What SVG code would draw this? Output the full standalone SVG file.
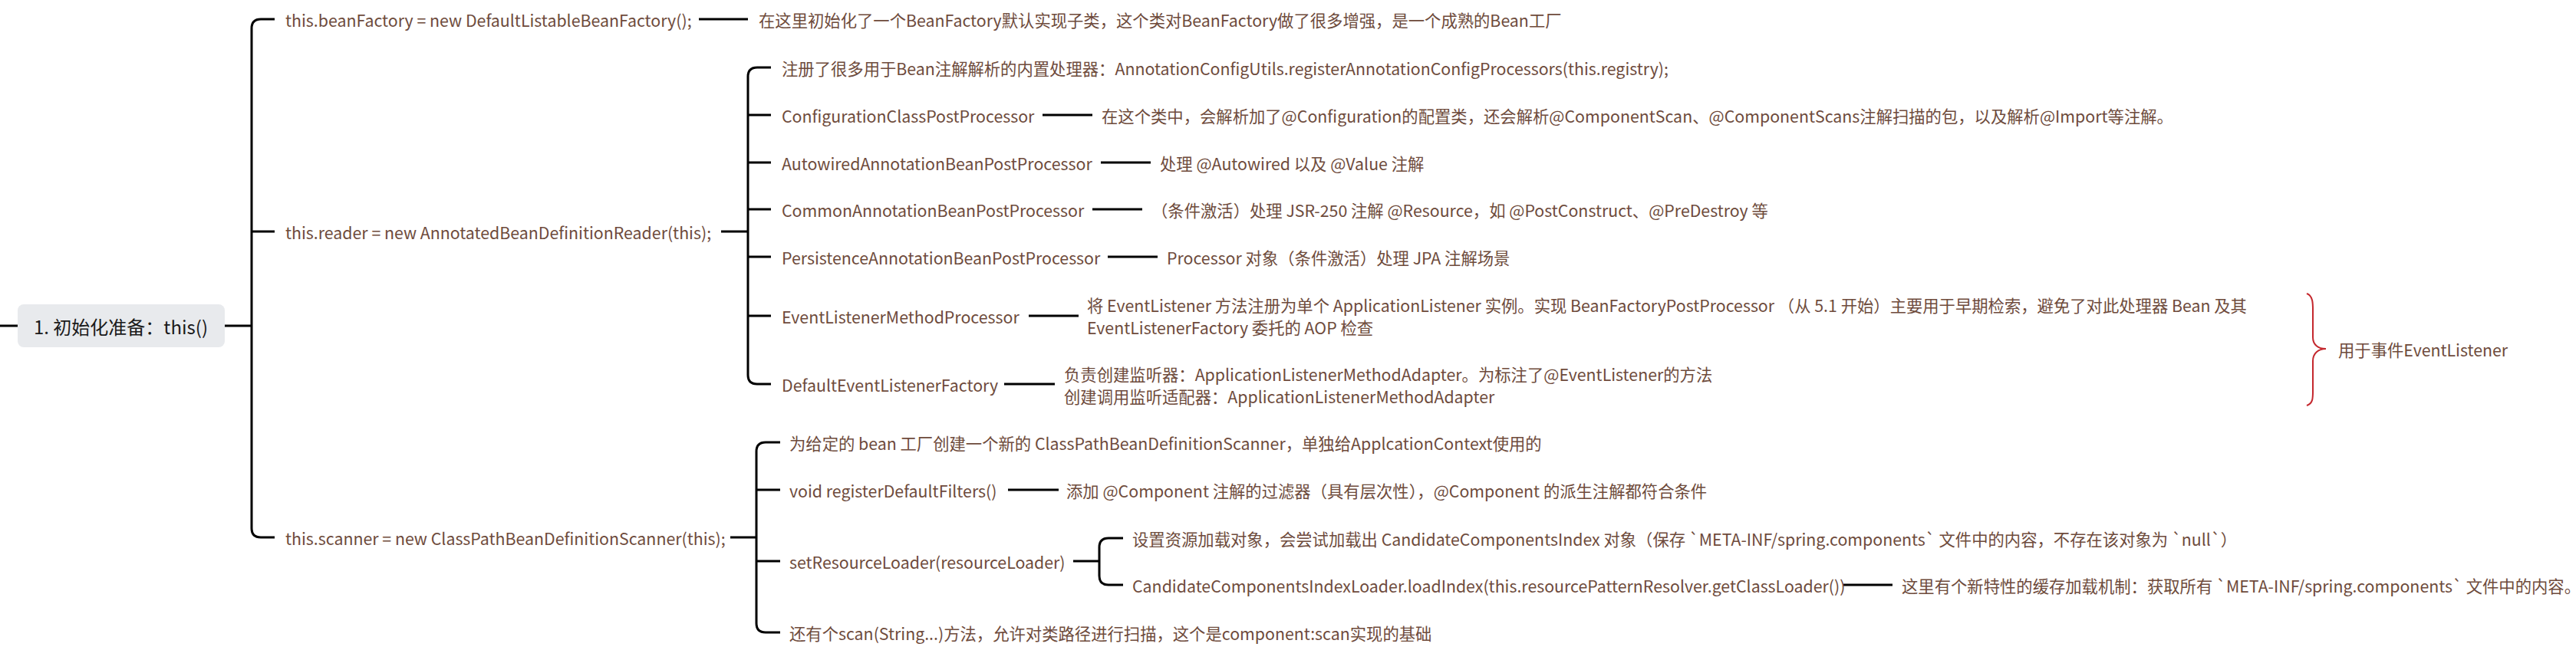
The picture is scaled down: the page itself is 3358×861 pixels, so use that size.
<svg xmlns="http://www.w3.org/2000/svg" width="3358" height="861" viewBox="0 0 3358 861">
<style>
.t { font-family: "Noto Sans CJK SC", "Microsoft YaHei", sans-serif; font-size: 21.33px; fill: #6e4b3c; dominant-baseline: central; }
.root { font-family: "Noto Sans CJK SC", "Microsoft YaHei", sans-serif; font-size: 24px; fill: #1a1a1a; dominant-baseline: central; }
.c { fill: none; stroke: #000; stroke-width: 3; stroke-linecap: butt; }
.brace { fill: none; stroke: #c4282e; stroke-width: 2; }
</style>
<rect width="3358" height="861" fill="#fff"/>
<g id="connectors">
  <path class="c" d="M0 425 H23"/>
  <path class="c" d="M293 425 H328"/>
  <path class="c" d="M358 25 H340 Q328 25 328 37 V689 Q328 701 340 701 H358"/>
  <path class="c" d="M328 302 H358"/>
  <path class="c" d="M911 25 H975"/>
  <path class="c" d="M940 302 H975"/>
  <path class="c" d="M1005 88 H987 Q975 88 975 100 V489 Q975 501 987 501 H1005"/>
  <path class="c" d="M975 150 H1005 M975 212 H1005 M975 273 H1005 M975 335 H1005 M975 412 H1005"/>
  <path class="c" d="M1359 150 H1424"/>
  <path class="c" d="M1435 212 H1500"/>
  <path class="c" d="M1424 273 H1489"/>
  <path class="c" d="M1444 335 H1509"/>
  <path class="c" d="M1341 412 H1406"/>
  <path class="c" d="M1309 501 H1375"/>
  <path class="c" d="M952 701 H986"/>
  <path class="c" d="M1017 577 H998 Q986 577 986 589 V813 Q986 825 998 825 H1017"/>
  <path class="c" d="M986 639 H1017 M986 732 H1017"/>
  <path class="c" d="M1314 639 H1380"/>
  <path class="c" d="M1399 732 H1433"/>
  <path class="c" d="M1464 702 H1445 Q1433 702 1433 714 V751 Q1433 763 1445 763 H1464"/>
  <path class="c" d="M2403 763 H2467"/>
</g>
<g id="root">
  <rect x="23" y="397" width="270" height="56" rx="8" fill="#e8eaed"/>
  <text class="root" x="44" y="425">1. 初始化准备：this()</text>
</g>
<g id="beanFactory">
  <text class="t" x="372" y="25">this.beanFactory = new DefaultListableBeanFactory();</text>
</g>
<g id="beanFactory-desc">
  <text class="t" x="989" y="25">在这里初始化了一个BeanFactory默认实现子类，这个类对BeanFactory做了很多增强，是一个成熟的Bean工厂</text>
</g>
<g id="reader">
  <text class="t" x="372" y="302">this.reader = new AnnotatedBeanDefinitionReader(this);</text>
</g>
<g id="reader-register">
  <text class="t" x="1019" y="88">注册了很多用于Bean注解解析的内置处理器：AnnotationConfigUtils.registerAnnotationConfigProcessors(this.registry);</text>
</g>
<g id="configuration">
  <text class="t" x="1019" y="150">ConfigurationClassPostProcessor</text>
</g>
<g id="configuration-desc">
  <text class="t" x="1436" y="150">在这个类中，会解析加了@Configuration的配置类，还会解析@ComponentScan、@ComponentScans注解扫描的包，以及解析@Import等注解。</text>
</g>
<g id="autowired">
  <text class="t" x="1019" y="212">AutowiredAnnotationBeanPostProcessor</text>
</g>
<g id="autowired-desc">
  <text class="t" x="1512" y="212">处理 @Autowired 以及 @Value 注解</text>
</g>
<g id="common">
  <text class="t" x="1019" y="273">CommonAnnotationBeanPostProcessor</text>
</g>
<g id="common-desc">
  <text class="t" x="1501" y="273">（条件激活）处理 JSR-250 注解 @Resource，如 @PostConstruct、@PreDestroy 等</text>
</g>
<g id="persistence">
  <text class="t" x="1019" y="335">PersistenceAnnotationBeanPostProcessor</text>
</g>
<g id="persistence-desc">
  <text class="t" x="1521" y="335">Processor 对象（条件激活）处理 JPA 注解场景</text>
</g>
<g id="eventListenerMethodProcessor">
  <text class="t" x="1019" y="412">EventListenerMethodProcessor</text>
</g>
<g id="eventListenerMethodProcessor-desc">
  <text class="t" x="1417" y="397">将 EventListener 方法注册为单个 ApplicationListener 实例。实现 BeanFactoryPostProcessor （从 5.1 开始）主要用于早期检索，避免了对此处理器 Bean 及其</text>
  <text class="t" x="1417" y="426">EventListenerFactory 委托的 AOP 检查</text>
</g>
<g id="defaultEventListenerFactory">
  <text class="t" x="1019" y="501">DefaultEventListenerFactory</text>
</g>
<g id="defaultEventListenerFactory-desc">
  <text class="t" x="1387" y="487">负责创建监听器：ApplicationListenerMethodAdapter。为标注了@EventListener的方法</text>
  <text class="t" x="1387" y="516">创建调用监听适配器：ApplicationListenerMethodAdapter</text>
</g>
<g id="eventListener-summary">
  <path class="brace" d="M3007 383 C3016 386 3015 398 3015 410 L3015 440 C3015 450 3022 455 3032 455 C3022 455 3015 461 3015 471 L3015 505 C3015 518 3016 526 3007 529"/>
  <text class="t" x="3048" y="455">用于事件EventListener</text>
</g>
<g id="scanner">
  <text class="t" x="372" y="701">this.scanner = new ClassPathBeanDefinitionScanner(this);</text>
</g>
<g id="scanner-create">
  <text class="t" x="1029" y="577">为给定的 bean 工厂创建一个新的 ClassPathBeanDefinitionScanner，单独给ApplcationContext使用的</text>
</g>
<g id="registerDefaultFilters">
  <text class="t" x="1029" y="639">void registerDefaultFilters()</text>
</g>
<g id="registerDefaultFilters-desc">
  <text class="t" x="1390" y="639">添加 @Component 注解的过滤器（具有层次性），@Component 的派生注解都符合条件</text>
</g>
<g id="setResourceLoader">
  <text class="t" x="1029" y="732">setResourceLoader(resourceLoader)</text>
</g>
<g id="setResourceLoader-desc">
  <text class="t" x="1476" y="702">设置资源加载对象，会尝试加载出 CandidateComponentsIndex 对象（保存 `META-INF/spring.components` 文件中的内容，不存在该对象为 `null`）</text>
</g>
<g id="loadIndex">
  <text class="t" x="1476" y="763">CandidateComponentsIndexLoader.loadIndex(this.resourcePatternResolver.getClassLoader())</text>
</g>
<g id="loadIndex-desc">
  <text class="t" x="2479" y="763">这里有个新特性的缓存加载机制：获取所有 `META-INF/spring.components` 文件中的内容。这</text>
</g>
<g id="scan">
  <text class="t" x="1029" y="825">还有个scan(String...)方法，允许对类路径进行扫描，这个是component:scan实现的基础</text>
</g>
</svg>
